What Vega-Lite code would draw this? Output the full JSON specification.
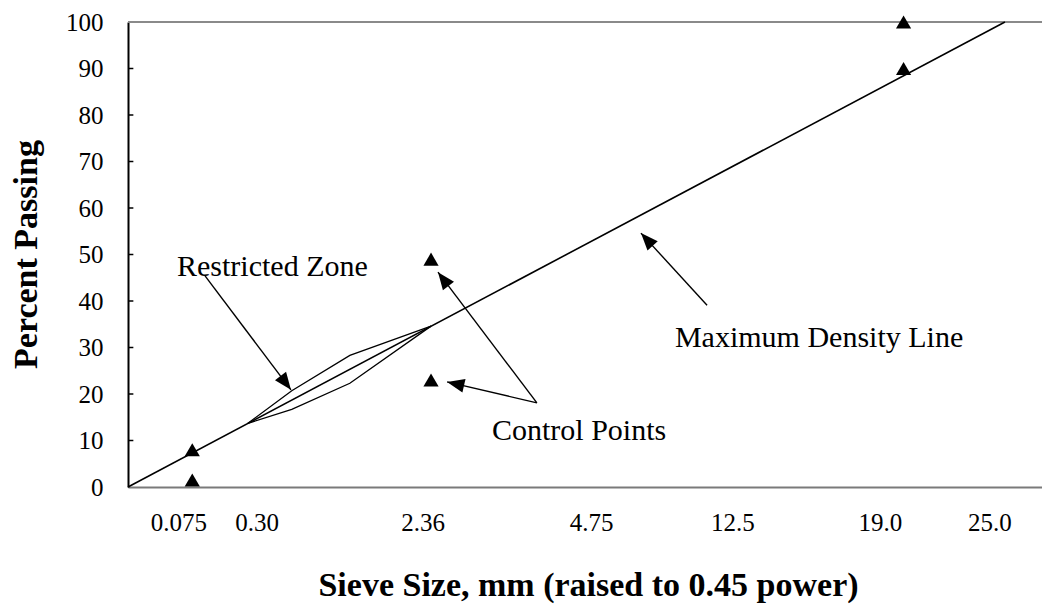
{
  "$schema": "https://vega.github.io/schema/vega-lite/v6.json",
  "width": 914,
  "height": 465,
  "autosize": "none",
  "padding": {"left": 128, "top": 22, "right": 0, "bottom": 120},
  "background": "white",
  "config": {
    "view": {"stroke": null},
    "font": "Liberation Serif",
    "axis": {"labelFont": "Liberation Serif", "titleFont": "Liberation Serif", "labelColor": "black", "titleColor": "black", "grid": false}
  },
  "datasets": {
    "control": [
      {"sieve": 0.075, "pos": 0.312, "pct": 8},
      {"sieve": 0.075, "pos": 0.312, "pct": 1.5},
      {"sieve": 2.36, "pos": 1.471, "pct": 49},
      {"sieve": 2.36, "pos": 1.471, "pct": 23},
      {"sieve": 19.0, "pos": 3.765, "pct": 100},
      {"sieve": 19.0, "pos": 3.765, "pct": 90}
    ],
    "maxdensity": [
      {"pos": 0, "pct": 0},
      {"pos": 4.257, "pct": 100}
    ],
    "zone": [
      {"edge": "upper", "sieve": 0.3, "pos": 0.582, "pct": 13.7},
      {"edge": "upper", "sieve": 0.6, "pos": 0.795, "pct": 20.7},
      {"edge": "upper", "sieve": 1.18, "pos": 1.077, "pct": 28.3},
      {"edge": "upper", "sieve": 2.36, "pos": 1.471, "pct": 34.6},
      {"edge": "lower", "sieve": 0.3, "pos": 0.582, "pct": 13.7},
      {"edge": "lower", "sieve": 0.6, "pos": 0.795, "pct": 16.7},
      {"edge": "lower", "sieve": 1.18, "pos": 1.077, "pct": 22.3},
      {"edge": "lower", "sieve": 2.36, "pos": 1.471, "pct": 34.6}
    ],
    "ticks": [
      {"pct": 10}, {"pct": 20}, {"pct": 30}, {"pct": 40}, {"pct": 50},
      {"pct": 60}, {"pct": 70}, {"pct": 80}, {"pct": 90}
    ],
    "arrows": [
      {"name": "zone", "x": 0.374, "y": 45.4, "x2": 0.791, "y2": 20.9, "heading": 143},
      {"name": "cp-upper", "x": 1.985, "y": 18.1, "x2": 1.505, "y2": 46.2, "heading": 323},
      {"name": "cp-lower", "x": 1.985, "y": 18.1, "x2": 1.549, "y2": 22.6, "heading": 283},
      {"name": "mdl", "x": 2.811, "y": 39.1, "x2": 2.49, "y2": 54.6, "heading": 317.5}
    ],
    "notes": [
      {"text": "Restricted  Zone", "x": 0.238, "y": 45.4},
      {"text": "Control Points", "x": 1.767, "y": 10.1},
      {"text": "Maximum Density Line", "x": 2.655, "y": 30.1}
    ]
  },
  "layer": [
    {
      "data": {"values": [{"pct": 100}]},
      "mark": {"type": "rule", "color": "#8a8a8a", "strokeWidth": 2},
      "encoding": {
        "y": {
          "field": "pct", "type": "quantitative",
          "scale": {"domain": [0, 100], "nice": false},
          "axis": {
            "title": "Percent Passing",
            "titleFontSize": 34, "titleFontWeight": "bold",
            "titleX": -92, "titleY": 232, "titleBaseline": "alphabetic", "titleAngle": -90,
            "values": [0, 10, 20, 30, 40, 50, 60, 70, 80, 90, 100],
            "labelFontSize": 25, "labelPadding": 25, "labelFlush": false,
            "ticks": false,
            "domainColor": "black", "domainWidth": 2
          }
        }
      }
    },
    {
      "data": {"name": "ticks"},
      "mark": {"type": "rule", "color": "black", "strokeWidth": 1.5},
      "encoding": {
        "x": {"datum": 0, "type": "quantitative"},
        "x2": {"datum": 0.026},
        "y": {"field": "pct", "type": "quantitative"}
      }
    },
    {
      "data": {"name": "maxdensity"},
      "mark": {"type": "line", "color": "black", "strokeWidth": 1.6},
      "encoding": {
        "x": {
          "field": "pos", "type": "quantitative",
          "scale": {"domain": [0, 4.437], "nice": false, "zero": true},
          "axis": {
            "title": "Sieve Size, mm (raised to 0.45 power)",
            "titleFontSize": 34, "titleFontWeight": "bold",
            "titleX": 460, "titleY": 108, "titleBaseline": "alphabetic",
            "values": [0.245, 0.624, 1.43, 2.248, 2.934, 3.65, 4.182],
            "labelExpr": "datum.value < 0.4 ? '0.075' : datum.value < 1 ? '0.30' : datum.value < 2 ? '2.36' : datum.value < 2.5 ? '4.75' : datum.value < 3.3 ? '12.5' : datum.value < 4 ? '19.0' : '25.0'",
            "labelFontSize": 25, "labelBaseline": "alphabetic", "labelPadding": 43,
            "ticks": false, "domainColor": "#7a7a7a", "domainWidth": 2, "labelFlush": false
          }
        },
        "y": {"field": "pct", "type": "quantitative"}
      }
    },
    {
      "data": {"name": "zone"},
      "mark": {"type": "line", "color": "black", "strokeWidth": 1.3},
      "encoding": {
        "x": {"field": "pos", "type": "quantitative"},
        "y": {"field": "pct", "type": "quantitative"},
        "detail": {"field": "edge"}
      }
    },
    {
      "data": {"name": "control"},
      "mark": {"type": "point", "shape": "triangle-up", "filled": true, "color": "black", "opacity": 1, "size": 230},
      "encoding": {
        "x": {"field": "pos", "type": "quantitative"},
        "y": {"field": "pct", "type": "quantitative"}
      }
    },
    {
      "data": {"name": "arrows"},
      "mark": {"type": "rule", "color": "black", "strokeWidth": 1.4},
      "encoding": {
        "x": {"field": "x", "type": "quantitative"},
        "y": {"field": "y", "type": "quantitative"},
        "x2": {"field": "x2"},
        "y2": {"field": "y2"}
      }
    },
    {
      "data": {"name": "arrows"},
      "mark": {"type": "point", "shape": "M0,0L-0.8,2L0.8,2Z", "filled": true, "color": "black", "opacity": 1, "size": 300},
      "encoding": {
        "x": {"field": "x2", "type": "quantitative"},
        "y": {"field": "y2", "type": "quantitative"},
        "angle": {"field": "heading", "type": "quantitative", "scale": null}
      }
    },
    {
      "data": {"name": "notes"},
      "mark": {"type": "text", "align": "left", "baseline": "alphabetic", "fontSize": 30, "color": "black", "font": "Liberation Serif"},
      "encoding": {
        "x": {"field": "x", "type": "quantitative"},
        "y": {"field": "y", "type": "quantitative"},
        "text": {"field": "text"}
      }
    }
  ]
}
